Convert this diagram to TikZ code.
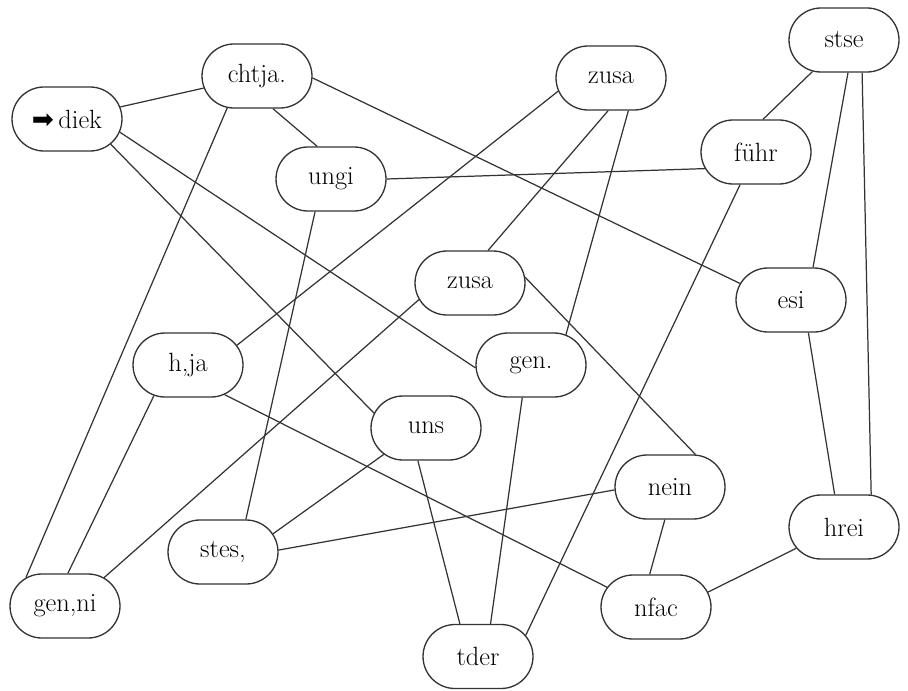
\documentclass[tikz,border=0pt]{standalone}
\usepackage{fontspec}
\newfontfamily\arrowfont{DejaVu Sans}
\usepackage{tikz}
\usetikzlibrary{positioning,shapes.misc}

\begin{document}
\begin{tikzpicture}[
  word/.style={draw=black!80,line width=.75pt,rounded rectangle,minimum width=2.34cm,
    minimum height=1.28cm,inner sep=2pt,font=\fontsize{15}{17}\selectfont},
  link/.style={line width=.7pt,draw=black!80}]
\useasboundingbox (0,0) rectangle (18.16,-13.8);
% nodes
\node[word] (diek)  at (1.34,-2.38)  {{\arrowfont ➡}\,diek};
\node[word] (chtja) at (5.14,-1.52)  {chtja.};
\node[word] (ungi)  at (6.62,-3.58)  {ungi};
\node[word] (zusaA) at (12.22,-1.56) {zusa};
\node[word] (stse)  at (16.88,-0.8)  {stse};
\node[word] (fuehr) at (15.12,-3.04) {führ};
\node[word] (esi)   at (15.82,-6.0)  {esi};
\node[word] (zusaB) at (9.4,-5.66)   {zusa};
\node[word] (hja)   at (3.76,-7.3)   {h,ja};
\node[word] (gen)   at (10.62,-7.3)  {gen.};
\node[word] (uns)   at (8.52,-8.56)  {uns};
\node[word] (nein)  at (13.4,-9.74)  {nein};
\node[word] (hrei)  at (16.88,-10.54) {hrei};
\node[word] (stes)  at (4.46,-11.04) {stes,};
\node[word] (genni) at (1.3,-12.12)  {gen,ni};
\node[word] (nfac)  at (13.12,-12.14) {nfac};
\node[word] (tder)  at (9.56,-13.13) {tder};
% links
\draw[link] (diek) -- (chtja);
\draw[link] (diek.-14) -- (gen.183);
\draw[link] (diek.-30) -- (uns.164);
\draw[link] (chtja.-64) -- (ungi.113);
\draw[link] (chtja.-133) -- (genni.144);
\draw[link] (chtja.-2) -- (esi.162);
\draw[link] (ungi.east) -- (fuehr.198);
\draw[link] (ungi.-116) -- (stes.55);
\draw[link] (zusaA.194) -- (hja.22);
\draw[link] (zusaA.-95) -- (zusaB.61);
\draw[link] (zusaA.-62) -- (gen.41);
\draw[link] (stse.-135) -- (fuehr.78);
\draw[link] (stse.-83) -- (esi.56);
\draw[link] (stse.-61) -- (hrei.50);
\draw[link] (fuehr.-116) -- (tder.24);
\draw[link] (esi.-62) -- (hrei.106);
\draw[link] (zusaB.198) -- (genni.36);
\draw[link] (zusaB.6) -- (nein.52);
\draw[link] (hja.-138) -- (genni.85);
\draw[link] (hja.-39) -- (nfac.158);
\draw[link] (gen.-105) -- (tder.69);
\draw[link] (uns.-148) -- (stes.20);
\draw[link] (uns.-104) -- (tder.119);
\draw[link] (nein.183) -- (stes.2);
\draw[link] (nein.-99) -- (nfac.101);
\draw[link] (hrei.204) -- (nfac.16);
\end{tikzpicture}
\end{document}
